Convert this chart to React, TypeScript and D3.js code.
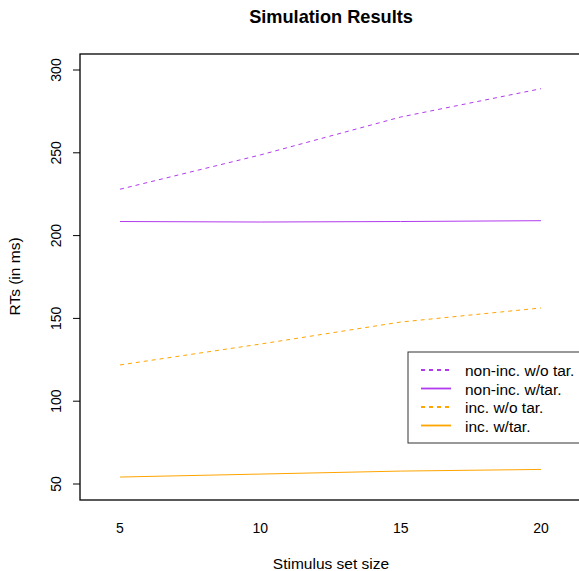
import * as d3 from "d3";
import React from "react";

// set sizes on the x axis
const setSizes = [5, 10, 15, 20];

// RTs
const nonIncNoTar = [228, 248.7, 271.6, 288.7];
const nonIncTar = [208.5, 208.2, 208.5, 209];
const incNoTar = [121.9, 134.5, 147.8, 156.3];
const incTar = [54.2, 56, 57.8, 58.8];

const xTicks = [5, 10, 15, 20];
const yTicks = [50, 100, 150, 200, 250, 300];

const series = [
    { name: "non-inc. w/o tar.", values: nonIncNoTar, color: "#B23AEE", dash: "4,4" },
    { name: "non-inc. w/tar.", values: nonIncTar, color: "#B23AEE", dash: null },
    { name: "inc. w/o tar.", values: incNoTar, color: "#FFA500", dash: "4,4" },
    { name: "inc. w/tar.", values: incTar, color: "#FFA500", dash: null },
];

const App = () => {
    const width = 579, height = 571;
    const left = 80, top = 54, bottom = 500, right = 583;
    const font = "'Liberation Sans', Arial, sans-serif";

    const x = d3.scaleLinear().domain([5, 20]).range([120, 541]);
    const y = d3.scaleLinear().domain([50, 300]).range([484, 70]);

    const line = d3.line<number>()
        .x((d, i) => x(setSizes[i]))
        .y((d) => y(d));

    return (
        <svg width={width} height={height} style={{ position: "absolute", left: 0, top: 0 }}
             fontFamily={font}>
            <rect x={0} y={0} width={width} height={height} fill="white"/>
            <text x={331} y={23} textAnchor="middle" fontSize={18.2} fontWeight="bold">
                Simulation Results
            </text>
            {series.map((s) => (
                <path key={s.name} d={line(s.values) || ""} fill="none" stroke={s.color}
                      strokeWidth={1} strokeDasharray={s.dash || undefined}/>
            ))}
            <rect x={left} y={top} width={right - left} height={bottom - top} fill="none"
                  stroke="black" strokeWidth={1.3}/>
            {yTicks.map((t) => (
                <g key={t}>
                    <line x1={left - 7} x2={left} y1={y(t)} y2={y(t)} stroke="black"/>
                    <text transform={"translate(" + 61 + "," + y(t) + ") rotate(-90)"}
                          textAnchor="middle" fontSize={14}>{t}</text>
                </g>
            ))}
            {xTicks.map((t) => (
                <text key={t} x={x(t)} y={533} textAnchor="middle" fontSize={14}>{t}</text>
            ))}
            <text x={331} y={569} textAnchor="middle" fontSize={15.5}>Stimulus set size</text>
            <text transform={"translate(20," + 276.5 + ") rotate(-90)"} textAnchor="middle" fontSize={15.5}>
                RTs (in ms)
            </text>
            <rect x={408} y={352} width={190} height={91} fill="white" stroke="#333" strokeWidth={1}/>
            {series.map((s, i) => (
                <g key={s.name}>
                    <line x1={421} x2={451} y1={370 + i * 18.5} y2={370 + i * 18.5} stroke={s.color}
                          strokeWidth={1.8} strokeDasharray={s.dash || undefined}/>
                    <text x={465} y={376 + i * 18.5} fontSize={15.5}>{s.name}</text>
                </g>
            ))}
        </svg>
    );
};

export default App;
